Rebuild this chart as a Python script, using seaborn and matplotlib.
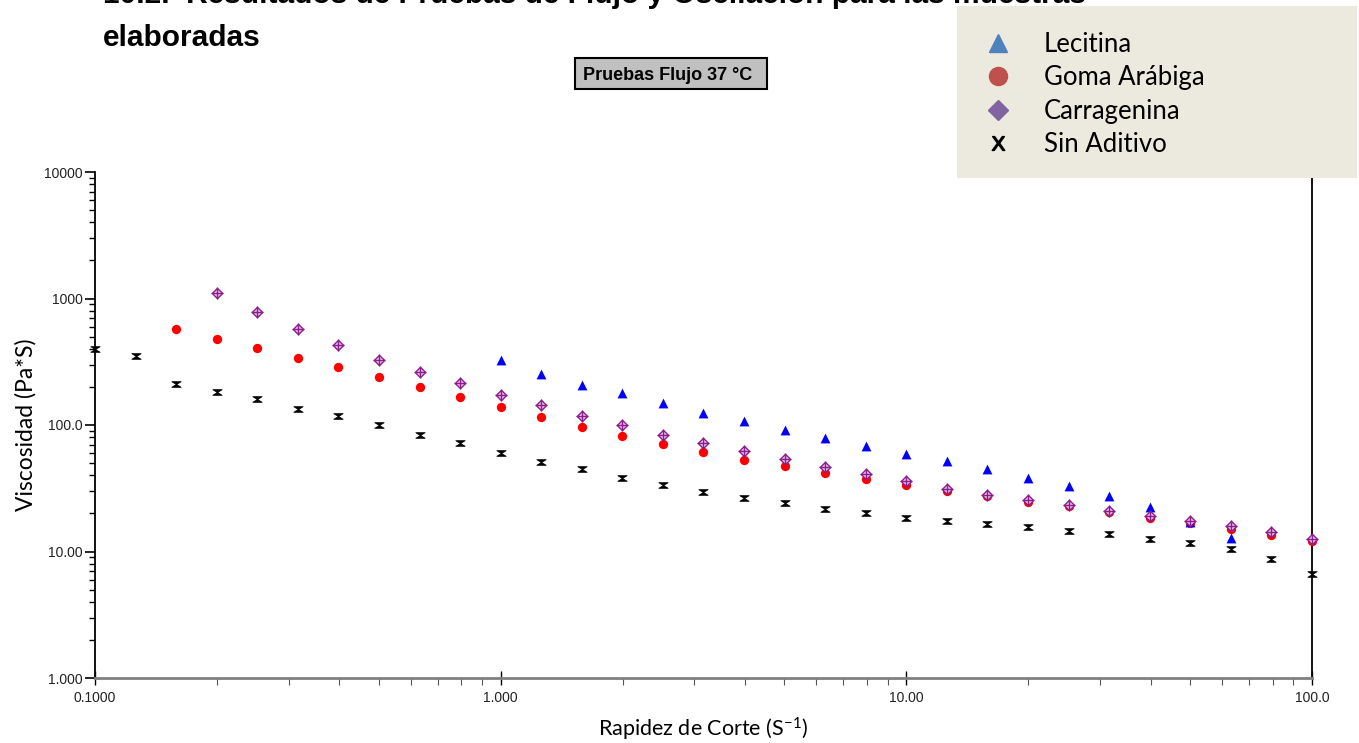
import numpy as np
import pandas as pd
import matplotlib
matplotlib.use("Agg")
import matplotlib.pyplot as plt
import seaborn as sns
from matplotlib.path import Path
from matplotlib.patches import Rectangle
from matplotlib.lines import Line2D
from matplotlib.ticker import LogLocator, NullFormatter, FixedLocator, FixedFormatter

# ---------------------------------------------------------------
# data (shear rate in 1/s, viscosity Pa*s)
# ---------------------------------------------------------------
shear_rate = [0.1000, 0.1259, 0.1585, 0.1995, 0.2512, 0.3162, 0.3981, 0.5012, 0.6310, 0.7943,
              1.000, 1.259, 1.585, 1.995, 2.512, 3.162, 3.981, 5.012, 6.310, 7.943,
              10.00, 12.59, 15.85, 19.95, 25.12, 31.62, 39.81, 50.12, 63.10, 79.43, 100.0]

sin_aditivo = [398, 354, 211, 181, 160, 134, 118, 99.4, 83, 71.6,
               60.5, 51, 44.7, 38.3, 33.8, 29.6, 26.7, 24.0, 21.6, 20.2,
               18.5, 17.3, 16.6, 15.5, 14.6, 13.7, 12.5, 11.7, 10.5, 8.7, 6.7]

goma_arabiga = [570, 478, 403, 340, 285, 240, 198, 167, 140,
                115, 97, 82, 71, 61.5, 53, 47.5, 41.9, 37.4,
                33.5, 30.3, 27.4, 24.8, 22.9, 20.4, 18.4, 16.9, 15.0, 13.5, 12.0]

carragenina = [1107, 785, 570, 432, 326, 262, 215, 174,
               143, 118, 99.5, 83, 71.6, 61.8, 53.6, 46.7, 41.1,
               36.2, 31.2, 28.2, 25.5, 23.3, 21.0, 19.1, 17.5, 15.9, 14.3, 12.5]

lecitina = [325, 251, 208, 178, 150, 124, 108, 91, 78.5, 68,
            59, 52, 44.8, 38.3, 33, 27.6, 22.3, 17.2, 12.8]

y_ticks = [1, 10, 100, 1000, 10000]
y_tick_labels = ["1.000", "10.00", "100.0", "1000", "10000"]
x_ticks = [0.1, 1, 10, 100]
x_tick_labels = ["0.1000", "1.000", "10.00", "100.0"]

legend_labels = ["Lecitina", "Goma Arábiga", "Carragenina", "Sin Aditivo"]

df_sin = pd.DataFrame({"x": shear_rate, "y": sin_aditivo})
df_goma = pd.DataFrame({"x": shear_rate[2:], "y": goma_arabiga})
df_carr = pd.DataFrame({"x": shear_rate[3:], "y": carragenina})
df_leci = pd.DataFrame({"x": shear_rate[10:29], "y": lecitina})

# ---------------------------------------------------------------
# figure
# ---------------------------------------------------------------
sns.set_style("white")
plt.rcParams["font.family"] = ["Liberation Sans", "DejaVu Sans"]
plt.rcParams["mathtext.default"] = "regular"
plt.rcParams["text.color"] = "black"
plt.rcParams["axes.labelcolor"] = "black"

fig = plt.figure(figsize=(13.59, 7.43), dpi=100)
ax = fig.add_axes([95 / 1359, 1 - 678 / 743, (1312 - 95) / 1359, (678 - 172) / 743])
ax.set_xscale("log")
ax.set_yscale("log")
ax.set_xlim(0.1, 100)
ax.set_ylim(1, 10000)

# hourglass marker for "Sin Aditivo"
hourglass = Path([(-1, 0.6), (1, 0.6), (-1, -0.6), (1, -0.6), (-1, 0.6)],
                 [Path.MOVETO, Path.LINETO, Path.LINETO, Path.LINETO, Path.CLOSEPOLY])

sns.scatterplot(data=df_sin, x="x", y="y", ax=ax, marker=hourglass, s=45,
                color="black", edgecolor="black", linewidth=0.6, clip_on=False, zorder=3)
sns.scatterplot(data=df_goma, x="x", y="y", ax=ax, marker="o", s=45,
                color="#FF0000", edgecolor="#FF0000", linewidth=0, clip_on=False, zorder=4)
sns.scatterplot(data=df_carr, x="x", y="y", ax=ax, marker="D", s=28,
                color="#E8C8E8", edgecolor="#8E1C8E", linewidth=1.0, clip_on=False, zorder=5)
sns.scatterplot(data=df_carr, x="x", y="y", ax=ax, marker="+", s=70,
                color="#8E1C8E", linewidth=1.0, clip_on=False, zorder=6)
sns.scatterplot(data=df_leci, x="x", y="y", ax=ax, marker="^", s=50,
                color="#0000FF", edgecolor="#0000FF", linewidth=0, clip_on=False, zorder=4)

# axes styling
ax.spines["top"].set_visible(False)
ax.spines["left"].set_color("black")
ax.spines["left"].set_linewidth(1.3)
ax.spines["right"].set_color("black")
ax.spines["right"].set_linewidth(1.3)
ax.spines["bottom"].set_color("#808080")
ax.spines["bottom"].set_linewidth(2)

ax.yaxis.set_major_locator(FixedLocator(y_ticks))
ax.yaxis.set_major_formatter(FixedFormatter(y_tick_labels))
ax.yaxis.set_minor_locator(LogLocator(base=10, subs=np.arange(2, 10)))
ax.yaxis.set_minor_formatter(NullFormatter())
ax.xaxis.set_major_locator(FixedLocator(x_ticks))
ax.xaxis.set_major_formatter(FixedFormatter(x_tick_labels))
ax.xaxis.set_minor_locator(LogLocator(base=10, subs=np.arange(2, 10)))
ax.xaxis.set_minor_formatter(NullFormatter())

ax.tick_params(axis="y", which="major", direction="out", length=7, width=1.2,
               color="black", labelsize=10, pad=2, left=True)
ax.tick_params(axis="y", which="minor", direction="out", length=4, width=1.0,
               color="black", left=True)
ax.tick_params(axis="x", which="major", direction="inout", length=10, width=1.0,
               color="black", labelsize=10, pad=4, bottom=True)
ax.tick_params(axis="x", which="minor", direction="out", length=5, width=0.8,
               color="#555555", bottom=True)
for lab in ax.get_xticklabels() + ax.get_yticklabels():
    lab.set_color("#222222")

ax.set_xlabel("Rapidez de Corte (S$^{-1}$)", fontsize=15.5, family=["Lato", "DejaVu Sans"],
              labelpad=8)
ax.set_ylabel("Viscosidad (Pa*S)", fontsize=16.5, family=["Lato", "DejaVu Sans"], labelpad=5)

# ---------------------------------------------------------------
# title (partly cut by the top edge) and boxes
# ---------------------------------------------------------------
fig.text(103 / 1359, 1 - 3 / 743,
         "10.2.  Resultados de Pruebas de Flujo y Oscilación para las muestras",
         fontsize=21.5, fontweight="bold", va="baseline", ha="left", zorder=1)
fig.text(103 / 1359, 1 - 46 / 743, "elaboradas",
         fontsize=21.5, fontweight="bold", va="baseline", ha="left", zorder=1)

fig.patches.append(Rectangle((575 / 1359, 1 - 89 / 743), (767 - 575) / 1359, (89 - 58) / 743,
                             transform=fig.transFigure, facecolor="#C0C0C0",
                             edgecolor="black", linewidth=1.5, zorder=2))
fig.text(583 / 1359, 1 - 80 / 743, "Pruebas Flujo 37 °C", fontsize=13,
         fontweight="bold", va="baseline", ha="left", zorder=3)

# legend panel
fig.patches.append(Rectangle((957 / 1359, 1 - 178 / 743), (1357 - 957) / 1359, (178 - 6) / 743,
                             transform=fig.transFigure, facecolor="#ECE9DF",
                             edgecolor="none", zorder=5))
handles = [
    Line2D([], [], linestyle="none", marker="^", markersize=13, color="#4F81BD"),
    Line2D([], [], linestyle="none", marker="o", markersize=13, color="#C0504D"),
    Line2D([], [], linestyle="none", marker="D", markersize=10, color="#8064A2"),
    Line2D([], [], linestyle="none", marker="$X$", markersize=10, color="black"),
]
leg = fig.legend(handles, legend_labels, loc="upper left",
                 bbox_to_anchor=(985 / 1359, 1 - 32 / 743),
                 frameon=False, handlelength=1.0, handletextpad=1.3,
                 labelspacing=0.33, borderpad=0, borderaxespad=0,
                 prop={"family": ["Lato", "DejaVu Sans"], "size": 18.5})
leg.set_zorder(6)

fig.savefig("out.png", dpi=100)
